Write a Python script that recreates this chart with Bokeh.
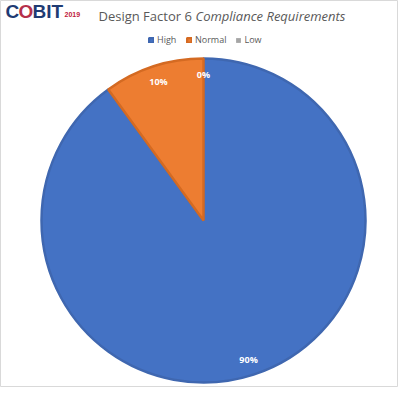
import math
from bokeh.plotting import figure
from bokeh.models import Range1d, Legend, LegendItem, ColumnDataSource
from bokeh.core.properties import value
from bokeh.embed import file_html
from bokeh.resources import INLINE

# ---- data ----
categories = ["High", "Normal", "Low"]
shares = [90, 10, 0]
labels = ["90%", "10%", "0%"]
colors = ["#4472C4", "#ED7D31", "#A5A5A5"]
edge_colors = ["#3F67B0", "#D46A22", "#8C8C8C"]
title_plain = "Design Factor 6"
title_italic = "Compliance Requirements"

W, H = 398, 387
p = figure(width=W, height=H, x_range=Range1d(0, W), y_range=Range1d(0, H),
           x_axis_type=None, y_axis_type=None, toolbar_location=None,
           output_backend="svg", min_border=0,
           outline_line_color="#D9D9D9", outline_line_width=1,
           background_fill_color="white", border_fill_color="white")
p.grid.visible = False

cx, cy, R = 203, 167, 162
total = sum(shares)
start = []
end = []
mid = []
acc = 0.0
for s in shares:
    a0 = math.pi / 2 - 2 * math.pi * acc / total
    acc += s
    a1 = math.pi / 2 - 2 * math.pi * acc / total
    start.append(a0)
    end.append(a1)
    mid.append((a0 + a1) / 2)

src = ColumnDataSource(dict(cat=categories,
                            lx=[cx + 0.9 * R * math.cos(m) for m in mid],
                            ly=[cy + 0.9 * R * math.sin(m) for m in mid],
                            lab=labels))

renderers = []
for i in range(len(categories)):
    r = p.wedge(x=cx, y=cy, radius=R if shares[i] > 0 else 0, radius_units="screen",
                start_angle=start[i], end_angle=end[i], direction="clock",
                fill_color=colors[i], line_color=edge_colors[i],
                line_width=2.5 if shares[i] > 0 else 0)
    renderers.append(r)

p.text(x="lx", y="ly", text="lab", source=src, text_color="white",
       text_font=value("Open Sans"), text_font_style="bold",
       text_font_size="9px", text_align="center", text_baseline="middle")

legend = Legend(items=[LegendItem(label=c, renderers=[r]) for c, r in zip(categories, renderers)],
                orientation="horizontal", location=(148, 341),
                glyph_width=6, glyph_height=6, label_standoff=3, spacing=9,
                padding=0, margin=0, border_line_color=None,
                background_fill_alpha=0,
                label_text_font="Open Sans", label_text_font_size="9px",
                label_text_color="#595959", label_height=10)
p.add_layout(legend, "center")

# title
p.text(x=[98], y=[372], text=[title_plain], text_font=value("Open Sans"),
       text_font_size="13px", text_color="#595959", text_baseline="middle")
p.text(x=[98 + 97], y=[372], text=[title_italic], text_font=value("Open Sans"),
       text_font_size="13px", text_font_style="italic", text_color="#595959",
       text_baseline="middle")

# logo
p.text(x=[5], y=[376], text=["C"], text_font=value("Liberation Sans"),
       text_font_style="bold", text_font_size="19px", text_color="#1F3B73",
       text_baseline="middle")
p.text(x=[18], y=[376], text=["O"], text_font=value("Liberation Sans"),
       text_font_style="bold", text_font_size="19px", text_color="#B5304A",
       text_baseline="middle")
p.text(x=[32], y=[376], text=["BIT"], text_font=value("Liberation Sans"),
       text_font_style="bold", text_font_size="19px", text_color="#1F3B73",
       text_baseline="middle")
p.text(x=[64], y=[373], text=["2019"], text_font=value("Liberation Sans"),
       text_font_style="bold", text_font_size="7px", text_color="#C0203A",
       text_baseline="middle")

open("out.html", "w").write(file_html(p, INLINE))
